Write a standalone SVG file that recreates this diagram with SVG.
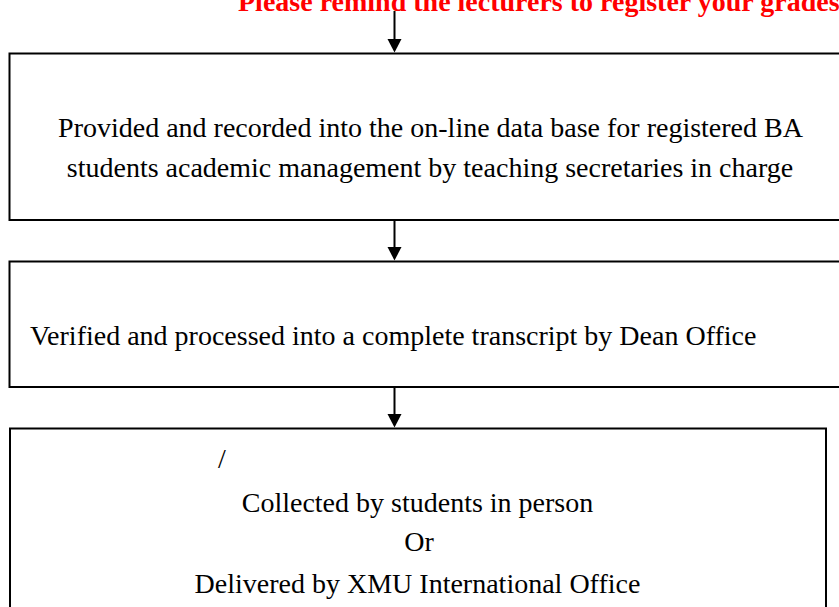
<svg xmlns="http://www.w3.org/2000/svg" width="839" height="607" viewBox="0 0 839 607">
  <style>
    .box { fill: #ffffff; stroke: #000000; stroke-width: 2; }
    .txt { font-family: "Liberation Serif", "Times New Roman", serif; font-size: 28px; fill: #000000; }
    .mid { text-anchor: middle; }
    .note { font-family: "Liberation Serif", "Times New Roman", serif; font-size: 28px; font-weight: bold; fill: #ff0000; }
    .conn { stroke: #000000; stroke-width: 2; fill: none; }
    .head { fill: #000000; stroke: none; }
  </style>
  <rect width="839" height="607" fill="#ffffff"/>

  <text id="note" class="note" x="238" y="11">Please remind the lecturers to register your grades</text>

  <g id="connectors">
    <line class="conn" x1="394.5" y1="11" x2="394.5" y2="40"/>
    <path class="head" d="M387.5,39 L401.5,39 L394.5,52.5 Z"/>
    <line class="conn" x1="394.5" y1="220" x2="394.5" y2="248"/>
    <path class="head" d="M387.5,247 L401.5,247 L394.5,260.5 Z"/>
    <line class="conn" x1="394.5" y1="387" x2="394.5" y2="415"/>
    <path class="head" d="M387.5,414 L401.5,414 L394.5,427.5 Z"/>
  </g>

  <g id="node1">
    <rect class="box" x="9.5" y="53.5" width="845" height="166.5"/>
    <text class="txt mid" x="430.5" y="137">Provided and recorded into the on-line data base for registered BA</text>
    <text class="txt mid" x="430" y="177">students academic management by teaching secretaries in charge</text>
  </g>

  <g id="node2">
    <rect class="box" x="9.5" y="261.5" width="845" height="125.5"/>
    <text class="txt" x="30" y="345">Verified and processed into a complete transcript by Dean Office</text>
  </g>

  <g id="node3">
    <rect class="box" x="10" y="428.5" width="816" height="200"/>
    <text class="txt" x="218" y="468">/</text>
    <text class="txt mid" x="417.5" y="512">Collected by students in person</text>
    <text class="txt mid" x="419" y="551">Or</text>
    <text class="txt mid" x="417.5" y="593">Delivered by XMU International Office</text>
  </g>
</svg>
